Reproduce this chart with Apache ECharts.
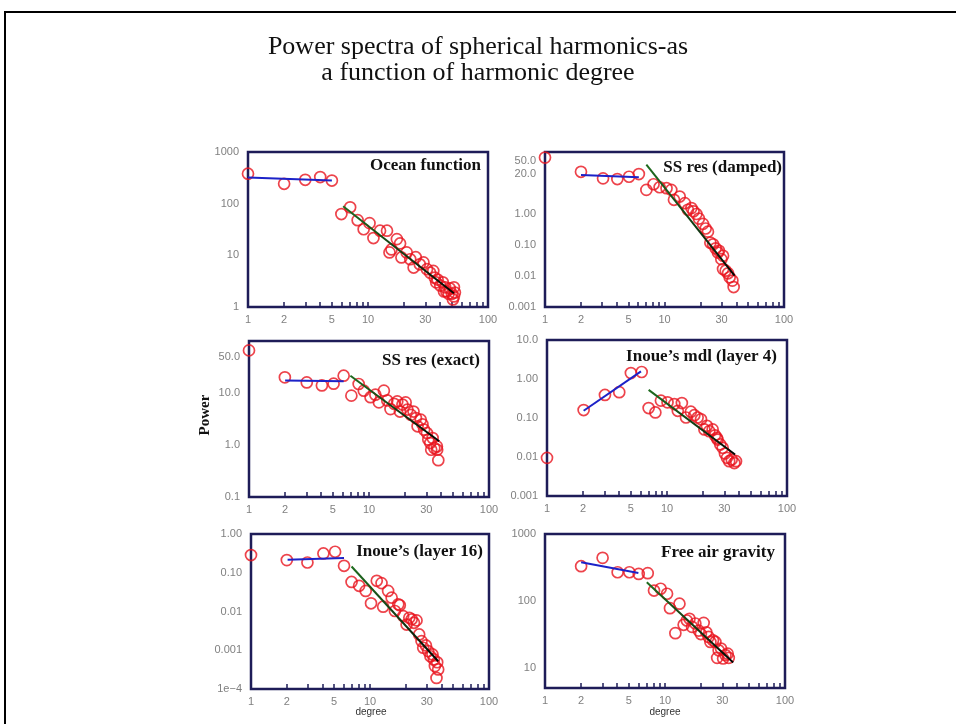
<!DOCTYPE html>
<html>
<head>
<meta charset="utf-8">
<script src="https://cdn.jsdelivr.net/npm/echarts@6/dist/echarts.min.js"></script>
<style>
  html, body { margin: 0; padding: 0; background: #fff; }
  #chart { width: 956px; height: 724px; }
</style>
</head>
<body>
<div id="chart"></div>
<script>
// ---- Data: [harmonic degree, power] ----
const oceanPoints = [
  [1, 380], [2, 242], [3, 290], [4, 327], [5, 280],
  [6.0, 63], [7.1, 85], [8.2, 48], [9.2, 32], [10.3, 42], [11.1, 21.6], [12.6, 30], [14.4, 30],
  [15.1, 11.4], [15.7, 13], [17.4, 20.6], [18.5, 17], [19, 9.1], [21, 11.4], [22.5, 8.4],
  [24, 5.8], [25, 9.2], [27, 6.7], [29, 7.3], [31, 5.4], [33, 4.6], [35, 5.0], [36, 3.7],
  [37, 3.0], [38, 3.4], [40, 2.6], [42, 3.0], [43, 2.0], [44, 2.4], [45, 2.0], [47, 1.8],
  [48, 2.3], [50, 1.8], [51, 1.4], [52, 2.4], [52, 1.6], [53, 1.9]
];
const oceanLowFit = [[1, 320], [5, 280]];
const oceanHighFit = [[6.2, 89], [52, 1.84]];

const ssDampedPoints = [
  [1, 66], [2, 23], [3.06, 14.1], [4.03, 13.4], [5.05, 15.9], [6.1, 19.4],
  [7.05, 6.0], [8.1, 9.1], [9.1, 7.3], [10.4, 6.8], [11.4, 6.0], [12.0, 2.87], [13.4, 3.66],
  [14.8, 2.24], [15.7, 1.37], [16.8, 1.55], [17.5, 1.22], [18.5, 1.0], [19.4, 0.71],
  [21, 0.48], [22.1, 0.34], [23.1, 0.27], [24.2, 0.119], [25.5, 0.105], [26.8, 0.078],
  [28, 0.057], [28.6, 0.065], [29.9, 0.035], [30.9, 0.045], [30.9, 0.0167], [32.5, 0.0148],
  [34, 0.0122], [35.1, 0.0091], [37, 0.0071], [37.9, 0.0044]
];
const ssDampedLowFit = [[2, 18], [6.1, 15.2]];
const ssDampedHighFit = [[7.05, 39.4], [38.6, 0.0103]];

const ssExactPoints = [
  [1, 66], [1.99, 20], [3.03, 16], [4.05, 14], [5.07, 15.1], [6.15, 21.5],
  [7.13, 8.9], [8.2, 14.9], [9.05, 11.1], [10.3, 8.3], [11.3, 9.3], [12.1, 6.6], [13.3, 11.1],
  [14.2, 7.2], [15.1, 4.9], [16.2, 6.2], [17.2, 6.9], [18.1, 4.4], [19, 6.0], [20.2, 6.6],
  [20.9, 4.8], [22.3, 3.8], [23.5, 4.4], [24.6, 3.3], [25.4, 2.29], [27, 3.07], [27.9, 2.5],
  [28.8, 1.97], [30.4, 1.70], [31.2, 1.27], [32.4, 1.09], [33, 0.81], [33.9, 1.36],
  [35, 0.875], [36.8, 0.94], [37, 0.81], [37.8, 0.51]
];
const ssExactLowFit = [[2, 17.3], [6.15, 16.8]];
const ssExactHighFit = [[7.0, 21.5], [38.5, 1.18]];

const inoue4Points = [
  [1, 0.0095], [2.02, 0.16], [3.04, 0.39], [4.0, 0.46], [5.0, 1.42], [6.15, 1.51],
  [7.03, 0.18], [8.0, 0.139], [8.9, 0.279], [10.1, 0.252], [11.5, 0.228], [12.3, 0.153],
  [13.3, 0.242], [14.4, 0.103], [15.8, 0.145], [16.9, 0.118], [18, 0.103], [19.2, 0.093],
  [20.5, 0.051], [21.5, 0.063], [22.5, 0.046], [24, 0.051], [25.1, 0.036], [26, 0.031],
  [26.4, 0.028], [27.8, 0.021], [29.1, 0.0172], [30.4, 0.0123], [31.6, 0.0095],
  [33, 0.0078], [34.6, 0.0086], [36.4, 0.0070], [37.6, 0.0078]
];
const inoue4LowFit = [[2.02, 0.153], [6.07, 1.57]];
const inoue4HighFit = [[7.03, 0.526], [36.9, 0.0116]];

const inoue16Points = [
  [1, 0.286], [2.0, 0.212], [2.98, 0.184], [4.06, 0.315], [5.09, 0.348], [6.05, 0.151],
  [7.0, 0.058], [8.1, 0.046], [9.2, 0.034], [10.2, 0.0163], [11.4, 0.062], [12.5, 0.054],
  [12.9, 0.0133], [14.2, 0.034], [15.2, 0.0228], [16.2, 0.0103], [17.3, 0.0153],
  [17.8, 0.0145], [19, 0.0076], [20.3, 0.0046], [21.4, 0.0069], [22.4, 0.0063],
  [23.4, 0.0051], [24.6, 0.0059], [25.9, 0.00256], [27.1, 0.00172], [28, 0.00116],
  [29.5, 0.00133], [30.8, 0.00095], [32.2, 0.0007], [33.5, 0.00078], [34.4, 0.00058],
  [35.1, 0.00039], [36.2, 0.000193], [36.7, 0.00049], [37.4, 0.00032]
];
const inoue16LowFit = [[2.03, 0.216], [6.05, 0.239]];
const inoue16HighFit = [[7.0, 0.145], [37.4, 0.00052]];

const gravityPoints = [
  [2, 330], [3.02, 440], [4.03, 268], [5.05, 268], [6.04, 253], [7.18, 260],
  [8.1, 143], [9.2, 152], [10.4, 128], [11.0, 78], [12.2, 33], [13.2, 91], [14.3, 44],
  [15.2, 51], [16.0, 54], [16.8, 41], [17.9, 46], [19.1, 36], [19.9, 32], [21, 47],
  [22.1, 34], [23.1, 29], [23.9, 24.4], [25.1, 25.8], [26.3, 24.4], [27.2, 14.1],
  [28, 18.3], [29.3, 19.4], [30.5, 13.8], [31.9, 15.5], [33.3, 16.3], [34, 14.1]
];
const gravityLowFit = [[2, 379], [6.0, 262]];
const gravityHighFit = [[7.05, 190], [37, 12]];

// ---- Axis ticks and labels ----
const degreeTicks = [1, 2, 3, 4, 5, 6, 7, 8, 9, 10, 20, 30, 40, 50, 60, 70, 80, 90, 100];
const degreeLabels = [1, 2, 5, 10, 30, 100];

const oceanPowerTicks = [1, 10, 100, 1000];
const oceanPowerText = ['1', '10', '100', '1000'];
const ssDampedPowerTicks = [0.001, 0.01, 0.1, 1, 20, 50];
const ssDampedPowerText = ['0.001', '0.01', '0.10', '1.00', '20.0', '50.0'];
const ssExactPowerTicks = [0.1, 1, 10, 50];
const ssExactPowerText = ['0.1', '1.0', '10.0', '50.0'];
const inoue4PowerTicks = [0.001, 0.01, 0.1, 1, 10];
const inoue4PowerText = ['0.001', '0.01', '0.10', '1.00', '10.0'];
const inoue16PowerTicks = [0.0001, 0.001, 0.01, 0.1, 1];
const inoue16PowerText = ['1e\u22124', '0.001', '0.01', '0.10', '1.00'];
const gravityPowerTicks = [10, 100, 1000];
const gravityPowerText = ['10', '100', '1000'];

const panelNames = [
  'Ocean function', 'SS res (damped)', 'SS res (exact)',
  'Inoue\u2019s mdl (layer 4)', 'Inoue\u2019s (layer 16)', 'Free air gravity'
];

// ---- Panel layout and construction ----
const panels = [
  { pts: oceanPoints, low: oceanLowFit, high: oceanHighFit, ticks: oceanPowerTicks, text: oceanPowerText,
    yMin: 1, yMax: 1000, box: { left: 248, top: 152, width: 240, height: 155 }, deg: false, pad: 7, dy: 14 },
  { pts: ssDampedPoints, low: ssDampedLowFit, high: ssDampedHighFit, ticks: ssDampedPowerTicks, text: ssDampedPowerText,
    yMin: 0.001, yMax: 100, box: { left: 545, top: 152, width: 239, height: 155 }, deg: false, pad: 2, dy: 16 },
  { pts: ssExactPoints, low: ssExactLowFit, high: ssExactHighFit, ticks: ssExactPowerTicks, text: ssExactPowerText,
    yMin: 0.1, yMax: 100, box: { left: 249, top: 341, width: 240, height: 156 }, deg: false, pad: 9, dy: 20 },
  { pts: inoue4Points, low: inoue4LowFit, high: inoue4HighFit, ticks: inoue4PowerTicks, text: inoue4PowerText,
    yMin: 0.001, yMax: 10, box: { left: 547, top: 340, width: 240, height: 156 }, deg: false, pad: 10, dy: 17 },
  { pts: inoue16Points, low: inoue16LowFit, high: inoue16HighFit, ticks: inoue16PowerTicks, text: inoue16PowerText,
    yMin: 0.0001, yMax: 1, box: { left: 251, top: 534, width: 238, height: 155 }, deg: true, pad: 6, dy: 18 },
  { pts: gravityPoints, low: gravityLowFit, high: gravityHighFit, ticks: gravityPowerTicks, text: gravityPowerText,
    yMin: 5, yMax: 1000, box: { left: 545, top: 534, width: 240, height: 154 }, deg: true, pad: 10, dy: 19 }
];

const frameColor = '#1e1c58';
const labelColor = '#808080';
const tickFont = 'Liberation Sans, Arial, sans-serif';
const serif = 'Liberation Serif, Times New Roman, serif';

const grids = [], xAxes = [], yAxes = [], series = [], graphics = [];

panels.forEach((p, i) => {
  grids.push(Object.assign({ show: true, borderColor: frameColor, borderWidth: 2.5,
    backgroundColor: 'transparent', containLabel: false }, p.box));

  xAxes.push({
    type: 'log', gridIndex: i, min: 1, max: 100, logBase: 10,
    axisLine: { show: false },
    splitLine: { show: false },
    axisTick: { show: true, inside: true, length: 5, customValues: degreeTicks,
      lineStyle: { color: frameColor, width: 1.5 } },
    axisLabel: { show: true, customValues: degreeLabels, color: labelColor, fontSize: 11,
      fontFamily: tickFont, margin: 7 }
  });

  const ticks = p.ticks, text = p.text;
  yAxes.push({
    type: 'log', gridIndex: i, min: p.yMin, max: p.yMax, logBase: 10,
    axisLine: { show: false },
    splitLine: { show: false },
    axisTick: { show: false },
    axisLabel: { show: true, customValues: ticks, color: labelColor, fontSize: 11,
      fontFamily: tickFont, margin: 9,
      formatter: v => {
        let best = 0, d = Infinity;
        ticks.forEach((t, k) => { const e = Math.abs(Math.log10(t) - Math.log10(v)); if (e < d) { d = e; best = k; } });
        return text[best];
      } }
  });

  series.push({
    type: 'scatter', xAxisIndex: i, yAxisIndex: i, data: p.pts, clip: false,
    symbol: 'circle', symbolSize: 11, z: 2,
    itemStyle: { color: 'rgba(0,0,0,0)', borderColor: '#e8141e', borderWidth: 1.7 }
  });
  series.push({
    type: 'line', xAxisIndex: i, yAxisIndex: i, data: p.low, showSymbol: false, z: 3,
    lineStyle: { color: '#1c22c8', width: 2 }
  });
  series.push({
    type: 'line', xAxisIndex: i, yAxisIndex: i, data: p.high, showSymbol: false, z: 3,
    lineStyle: { width: 2, color: new echarts.graphic.LinearGradient(0, 0, 1, 1, [
      { offset: 0, color: '#1f6e1f' }, { offset: 0.55, color: '#123a12' }, { offset: 1, color: '#000' }
    ]) }
  });

  // panel caption, top-right inside the frame
  graphics.push({
    type: 'text', x: p.box.left + p.box.width - p.pad, y: p.box.top + p.dy,
    style: { text: panelNames[i], font: 'bold 17px ' + serif, fill: '#111',
      textAlign: 'right', textVerticalAlign: 'middle' }
  });

  if (p.deg) {
    graphics.push({
      type: 'text', x: p.box.left + 120, y: 712,
      style: { text: 'degree', font: '10px ' + tickFont, fill: '#333',
        textAlign: 'center', textVerticalAlign: 'middle' }
    });
  }
});

graphics.push({
  type: 'rect', shape: { x: 5, y: 12, width: 960, height: 730 },
  style: { fill: 'none', stroke: '#000', lineWidth: 2 }, silent: true
});
graphics.push({
  type: 'text', x: 478, y: 34,
  style: { text: 'Power spectra of spherical harmonics-as\na function of harmonic degree',
    font: '26px ' + serif, fill: '#111', textAlign: 'center', lineHeight: 26 }
});
graphics.push({
  type: 'text', x: 205, y: 415, rotation: Math.PI / 2,
  style: { text: 'Power', font: 'bold 15px ' + serif, fill: '#111',
    textAlign: 'center', textVerticalAlign: 'middle' }
});

const chart = echarts.init(document.getElementById('chart'), null, { renderer: 'canvas' });
chart.setOption({
  backgroundColor: '#fff',
  animation: false,
  grid: grids,
  xAxis: xAxes,
  yAxis: yAxes,
  series: series,
  graphic: graphics
});
</script>
</body>
</html>
